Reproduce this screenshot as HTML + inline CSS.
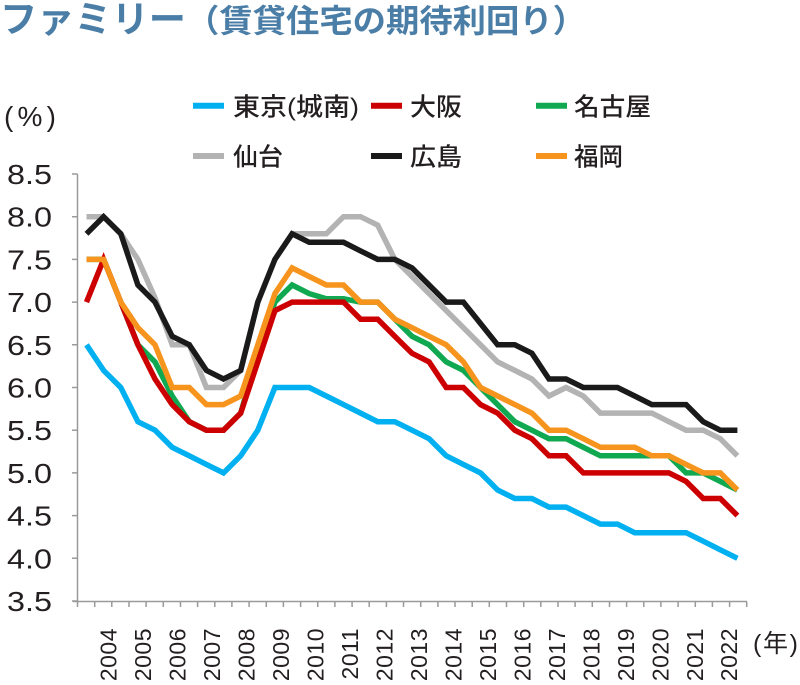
<!DOCTYPE html>
<html>
<head>
<meta charset="utf-8">
<style>
  html, body { margin: 0; padding: 0; background: #ffffff; }
  body { width: 800px; height: 685px; overflow: hidden; }
  svg { display: block; }
  .t1 { font-family: "Liberation Sans", "Noto Sans CJK JP", sans-serif; font-weight: 700; fill: #4b7ea7; }
  .lg { font-family: "Liberation Sans", "Noto Sans CJK JP", sans-serif; font-weight: 500; font-size: 25px; fill: #231f20; }
  .yl { font-family: "Liberation Sans", "DejaVu Sans", sans-serif; font-size: 28px; fill: #231f20; }
  .xl { font-family: "Liberation Sans", "DejaVu Sans", sans-serif; font-size: 23px; letter-spacing: 0.5px; fill: #231f20; }
  .s { fill: none; stroke-width: 5.5; stroke-linejoin: miter; stroke-miterlimit: 4; stroke-linecap: butt; }
</style>
</head>
<body>
<svg width="800" height="685" viewBox="0 0 800 685" xmlns="http://www.w3.org/2000/svg">
  <!-- Title -->
  <text class="t1" x="0" y="32" font-size="37" textLength="186" lengthAdjust="spacingAndGlyphs">ファミリー</text>
  <text class="t1" x="186" y="32" font-size="32" textLength="400" lengthAdjust="spacingAndGlyphs">（賃貸住宅の期待利回り）</text>

  <!-- Legend -->
  <line x1="193" y1="105.7" x2="224" y2="105.7" stroke="#00b0f0" stroke-width="6"/>
  <text class="lg" x="233" y="115.5" textLength="126" lengthAdjust="spacingAndGlyphs">東京(城南)</text>
  <line x1="371" y1="105.7" x2="402" y2="105.7" stroke="#cc0000" stroke-width="6"/>
  <text class="lg" x="410" y="115.5" textLength="52" lengthAdjust="spacingAndGlyphs">大阪</text>
  <line x1="536" y1="105.7" x2="567" y2="105.7" stroke="#10a850" stroke-width="6"/>
  <text class="lg" x="574" y="115.5" textLength="77" lengthAdjust="spacingAndGlyphs">名古屋</text>

  <line x1="193" y1="156" x2="224" y2="156" stroke="#b3b3b3" stroke-width="6"/>
  <text class="lg" x="233" y="165.5" textLength="50" lengthAdjust="spacingAndGlyphs">仙台</text>
  <line x1="371" y1="156" x2="402" y2="156" stroke="#1a1a1a" stroke-width="6"/>
  <text class="lg" x="410" y="165.5" textLength="52" lengthAdjust="spacingAndGlyphs">広島</text>
  <line x1="536" y1="156" x2="567" y2="156" stroke="#f7941d" stroke-width="6"/>
  <text class="lg" x="574" y="165.5" textLength="49" lengthAdjust="spacingAndGlyphs">福岡</text>

  <!-- (%) -->
  <text class="yl" x="4" y="126" font-size="24" textLength="52" lengthAdjust="spacing">(%)</text>

  <!-- Y labels -->
  <g text-anchor="end">
    <text class="yl" x="52" y="184" textLength="45" lengthAdjust="spacingAndGlyphs">8.5</text>
    <text class="yl" x="52" y="226.7" textLength="45" lengthAdjust="spacingAndGlyphs">8.0</text>
    <text class="yl" x="52" y="269.4" textLength="45" lengthAdjust="spacingAndGlyphs">7.5</text>
    <text class="yl" x="52" y="312.1" textLength="45" lengthAdjust="spacingAndGlyphs">7.0</text>
    <text class="yl" x="52" y="354.8" textLength="45" lengthAdjust="spacingAndGlyphs">6.5</text>
    <text class="yl" x="52" y="397.5" textLength="45" lengthAdjust="spacingAndGlyphs">6.0</text>
    <text class="yl" x="52" y="440.2" textLength="45" lengthAdjust="spacingAndGlyphs">5.5</text>
    <text class="yl" x="52" y="482.9" textLength="45" lengthAdjust="spacingAndGlyphs">5.0</text>
    <text class="yl" x="52" y="525.6" textLength="45" lengthAdjust="spacingAndGlyphs">4.5</text>
    <text class="yl" x="52" y="568.3" textLength="45" lengthAdjust="spacingAndGlyphs">4.0</text>
    <text class="yl" x="52" y="611" textLength="45" lengthAdjust="spacingAndGlyphs">3.5</text>
  </g>

  <!-- Axes -->
  <g stroke="#9a9a9a" stroke-width="1.5" fill="none">
    <line x1="77.5" y1="174" x2="77.5" y2="601.5"/>
    <line x1="73" y1="601.5" x2="747" y2="601.5"/>
    <path d="M72 174H77.5M72 216.7H77.5M72 259.4H77.5M72 302.1H77.5M72 344.8H77.5M72 387.5H77.5M72 430.2H77.5M72 472.9H77.5M72 515.6H77.5M72 558.3H77.5M72 601H77.5"/>
    <path d="M77.5 601.5V607M94.7 601.5V607M111.8 601.5V607M129 601.5V607M146.1 601.5V607M163.3 601.5V607M180.5 601.5V607M197.6 601.5V607M214.8 601.5V607M231.9 601.5V607M249.1 601.5V607M266.3 601.5V607M283.4 601.5V607M300.6 601.5V607M317.7 601.5V607M334.9 601.5V607M352.1 601.5V607M369.2 601.5V607M386.4 601.5V607M403.5 601.5V607M420.7 601.5V607M437.9 601.5V607M455 601.5V607M472.2 601.5V607M489.3 601.5V607M506.5 601.5V607M523.7 601.5V607M540.8 601.5V607M558 601.5V607M575.1 601.5V607M592.3 601.5V607M609.5 601.5V607M626.6 601.5V607M643.8 601.5V607M660.9 601.5V607M678.1 601.5V607M695.3 601.5V607M712.4 601.5V607M729.6 601.5V607M746.7 601.5V607"/>
  </g>

  <!-- X labels -->
  <g text-anchor="end">
    <text class="xl" transform="translate(116.6,628) rotate(-90)">2004</text>
    <text class="xl" transform="translate(151.1,628) rotate(-90)">2005</text>
    <text class="xl" transform="translate(185.6,628) rotate(-90)">2006</text>
    <text class="xl" transform="translate(220,628) rotate(-90)">2007</text>
    <text class="xl" transform="translate(254.5,628) rotate(-90)">2008</text>
    <text class="xl" transform="translate(289,628) rotate(-90)">2009</text>
    <text class="xl" transform="translate(323.5,628) rotate(-90)">2010</text>
    <text class="xl" transform="translate(358,628) rotate(-90)">2011</text>
    <text class="xl" transform="translate(392.4,628) rotate(-90)">2012</text>
    <text class="xl" transform="translate(426.9,628) rotate(-90)">2013</text>
    <text class="xl" transform="translate(461.4,628) rotate(-90)">2014</text>
    <text class="xl" transform="translate(495.9,628) rotate(-90)">2015</text>
    <text class="xl" transform="translate(530.4,628) rotate(-90)">2016</text>
    <text class="xl" transform="translate(564.8,628) rotate(-90)">2017</text>
    <text class="xl" transform="translate(599.3,628) rotate(-90)">2018</text>
    <text class="xl" transform="translate(633.8,628) rotate(-90)">2019</text>
    <text class="xl" transform="translate(668.3,628) rotate(-90)">2020</text>
    <text class="xl" transform="translate(702.8,628) rotate(-90)">2021</text>
    <text class="xl" transform="translate(737.2,628) rotate(-90)">2022</text>
  </g>
  <text x="753" y="652" font-size="25" fill="#231f20" font-family="'Liberation Sans', 'Noto Sans CJK JP', sans-serif" textLength="45" lengthAdjust="spacing">(年)</text>

  <!-- Series -->
  <polyline class="s" stroke="#00b0f0" points="86.5,344.8 103.6,370.4 120.8,387.5 137.9,421.7 155.0,430.2 172.2,447.3 189.3,455.8 206.4,464.4 223.5,472.9 240.7,455.8 257.8,430.2 274.9,387.5 292.1,387.5 309.2,387.5 326.3,396.0 343.5,404.6 360.6,413.1 377.7,421.7 394.8,421.7 412.0,430.2 429.1,438.7 446.2,455.8 463.4,464.4 480.5,472.9 497.6,490.0 514.8,498.5 531.9,498.5 549.0,507.1 566.1,507.1 583.3,515.6 600.4,524.1 617.5,524.1 634.7,532.7 651.8,532.7 668.9,532.7 686.1,532.7 703.2,541.2 720.3,549.8 737.4,558.3"/>
  <polyline class="s" stroke="#10a850" points="86.5,259.4 103.6,259.4 120.8,302.1 137.9,344.8 155.0,361.9 172.2,396.0 189.3,421.7 206.4,430.2 223.5,430.2 240.7,413.1 257.8,353.3 274.9,302.1 292.1,285.0 309.2,293.6 326.3,298.7 343.5,298.7 360.6,302.1 377.7,302.1 394.8,319.2 412.0,336.3 429.1,344.8 446.2,361.9 463.4,370.4 480.5,387.5 497.6,404.6 514.8,421.7 531.9,430.2 549.0,438.7 566.1,438.7 583.3,447.3 600.4,455.8 617.5,455.8 634.7,455.8 651.8,455.8 668.9,455.8 686.1,472.9 703.2,472.9 720.3,481.4 737.4,490.0"/>
  <polyline class="s" stroke="#cc0000" points="86.5,302.1 103.6,259.4 120.8,302.1 137.9,344.8 155.0,379.0 172.2,404.6 189.3,421.7 206.4,430.2 223.5,430.2 240.7,413.1 257.8,361.9 274.9,310.6 292.1,302.1 309.2,302.1 326.3,302.1 343.5,302.1 360.6,319.2 377.7,319.2 394.8,336.3 412.0,353.3 429.1,361.9 446.2,387.5 463.4,387.5 480.5,404.6 497.6,413.1 514.8,430.2 531.9,438.7 549.0,455.8 566.1,455.8 583.3,472.9 600.4,472.9 617.5,472.9 634.7,472.9 651.8,472.9 668.9,472.9 686.1,481.4 703.2,498.5 720.3,498.5 737.4,515.6"/>
  <polyline class="s" stroke="#b3b3b3" points="86.5,216.7 103.6,216.7 120.8,233.8 137.9,259.4 155.0,297.8 172.2,344.8 189.3,344.8 206.4,387.5 223.5,387.5 240.7,370.4 257.8,302.1 274.9,259.4 292.1,233.8 309.2,233.8 326.3,233.8 343.5,216.7 360.6,216.7 377.7,225.2 394.8,259.4 412.0,276.5 429.1,293.6 446.2,310.6 463.4,327.7 480.5,344.8 497.6,361.9 514.8,370.4 531.9,379.0 549.0,396.0 566.1,387.5 583.3,396.0 600.4,413.1 617.5,413.1 634.7,413.1 651.8,413.1 668.9,421.7 686.1,430.2 703.2,430.2 720.3,438.7 737.4,455.8"/>
  <polyline class="s" stroke="#1a1a1a" points="86.5,233.8 103.6,216.7 120.8,233.8 137.9,285.0 155.0,302.1 172.2,336.3 189.3,344.8 206.4,370.4 223.5,379.0 240.7,370.4 257.8,302.1 274.9,259.4 292.1,233.8 309.2,242.3 326.3,242.3 343.5,242.3 360.6,250.9 377.7,259.4 394.8,259.4 412.0,267.9 429.1,285.0 446.2,302.1 463.4,302.1 480.5,323.5 497.6,344.8 514.8,344.8 531.9,353.3 549.0,379.0 566.1,379.0 583.3,387.5 600.4,387.5 617.5,387.5 634.7,396.0 651.8,404.6 668.9,404.6 686.1,404.6 703.2,421.7 720.3,430.2 737.4,430.2"/>
  <polyline class="s" stroke="#f7941d" points="86.5,259.4 103.6,259.4 120.8,302.1 137.9,327.7 155.0,344.8 172.2,387.5 189.3,387.5 206.4,404.6 223.5,404.6 240.7,396.0 257.8,344.8 274.9,293.6 292.1,267.9 309.2,276.5 326.3,285.0 343.5,285.0 360.6,302.1 377.7,302.1 394.8,319.2 412.0,327.7 429.1,336.3 446.2,344.8 463.4,361.9 480.5,387.5 497.6,396.0 514.8,404.6 531.9,413.1 549.0,430.2 566.1,430.2 583.3,438.7 600.4,447.3 617.5,447.3 634.7,447.3 651.8,455.8 668.9,455.8 686.1,464.4 703.2,472.9 720.3,472.9 737.4,490.0"/>
</svg>
</body>
</html>
